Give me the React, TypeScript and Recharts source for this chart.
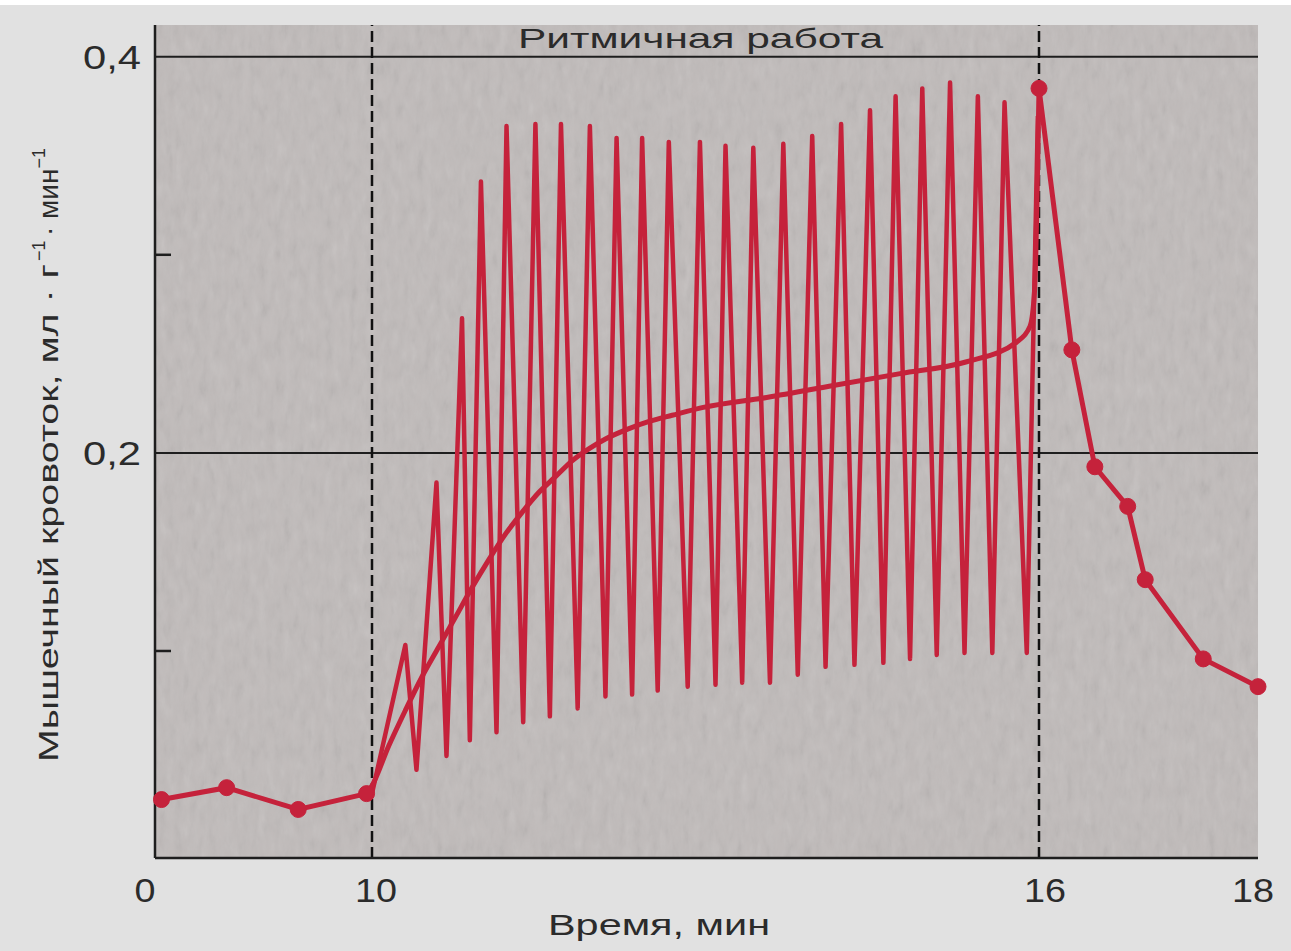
import React, { useEffect } from "react";
import {
  ComposedChart,
  Line,
  XAxis,
  YAxis,
  ReferenceLine,
  ReferenceArea,
  Label,
} from "recharts";

// The time axis is broken: rest (0-10), rhythmic work (10-16) and recovery (16-18)
// each get their own stretch of the plot.
const TIME_STOPS = [0, 10, 16, 18];
const AXIS_STOPS = [0, 217, 884, 1103];

// resting flow before the work bout
const REST_TIME = [0.3, 3.3, 6.6, 9.75];
const REST_FLOW = [0.025, 0.031, 0.02, 0.028];

// mean flow during the rhythmic work
const MEAN_TIME = [
  9.75, 10.0, 10.15, 10.3, 10.45, 10.6, 10.75, 10.9, 11.05, 11.2, 11.35, 11.5,
  11.65, 11.8, 11.95, 12.1, 12.3, 12.5, 12.7, 12.98, 13.55, 14.15, 14.75,
  15.35, 15.8, 15.92, 15.96, 16.0,
];
const MEAN_FLOW = [
  0.028, 0.032, 0.052, 0.07, 0.087, 0.102, 0.117, 0.132, 0.146, 0.159, 0.17,
  0.18, 0.188, 0.196, 0.202, 0.207, 0.212, 0.216, 0.219, 0.223, 0.228, 0.234,
  0.24, 0.246, 0.256, 0.264, 0.282, 0.384,
];

// flow swings with every contraction / relaxation cycle
const PULSE_TIME = [
  10.0, 10.3, 10.4, 10.58, 10.67, 10.81, 10.88, 10.98, 11.12, 11.21, 11.36,
  11.47, 11.6, 11.7, 11.85, 11.96, 12.1, 12.2, 12.34, 12.43, 12.57, 12.67,
  12.84, 12.95, 13.09, 13.18, 13.33, 13.43, 13.58, 13.7, 13.83, 13.96, 14.08,
  14.22, 14.34, 14.48, 14.6, 14.71, 14.84, 14.95, 15.08, 15.2, 15.33, 15.45,
  15.58, 15.69, 15.89, 15.99,
];
const PULSE_FLOW = [
  0.028, 0.103, 0.04, 0.185, 0.047, 0.268, 0.055, 0.337, 0.059, 0.365, 0.064,
  0.366, 0.067, 0.366, 0.071, 0.365, 0.077, 0.359, 0.078, 0.359, 0.08, 0.357,
  0.082, 0.357, 0.083, 0.355, 0.084, 0.354, 0.084, 0.356, 0.088, 0.36, 0.092,
  0.366, 0.093, 0.373, 0.094, 0.38, 0.096, 0.384, 0.098, 0.387, 0.099, 0.38,
  0.099, 0.377, 0.099, 0.37,
];

// recovery after the work stops
const RECOVERY_TIME = [16.0, 16.3, 16.51, 16.81, 16.97, 17.5, 18.0];
const RECOVERY_FLOW = [0.384, 0.252, 0.193, 0.173, 0.136, 0.096, 0.082];

const Y_TICKS = [0.1, 0.2, 0.3, 0.4];
const Y_LABELS: Record<string, string> = { "0.2": "0,2", "0.4": "0,4" };

const RED = "#c5223b";
const INK = "#2b2b2b";
const FONT = "'Liberation Sans', Arial, sans-serif";
const Y_MIN = -0.0045;
const Y_MAX = 0.416;

function toAxis(t: number) {
  for (let i = 1; i < TIME_STOPS.length; i++) {
    if (t <= TIME_STOPS[i] || i === TIME_STOPS.length - 1) {
      const t0 = TIME_STOPS[i - 1];
      const t1 = TIME_STOPS[i];
      const a0 = AXIS_STOPS[i - 1];
      const a1 = AXIS_STOPS[i];
      return a0 + ((t - t0) / (t1 - t0)) * (a1 - a0);
    }
  }
  return 0;
}

const series = (times: number[], flows: number[]) =>
  times.map((t, i) => ({ u: toAxis(t), v: flows[i] }));

const restData = series(REST_TIME, REST_FLOW);
const meanData = series(MEAN_TIME, MEAN_FLOW);
const pulseData = series(PULSE_TIME, PULSE_FLOW);
const recoveryData = series(RECOVERY_TIME, RECOVERY_FLOW);

const xTicks = TIME_STOPS.map(toAxis);

function XTick(props: any) {
  const { x, y, index } = props;
  const shift = index === 0 ? -10 : index === 3 ? -5 : index === 2 ? 6 : 4;
  const label = String(TIME_STOPS[index]);
  return (
    <text
      x={x + shift}
      y={y}
      dy={28}
      textAnchor="middle"
      fontFamily={FONT}
      fontSize={34}
      fill={INK}
      textLength={label.length * 21}
      lengthAdjust="spacingAndGlyphs"
    >
      {label}
    </text>
  );
}

function YTick(props: any) {
  const { x, y, payload } = props;
  const text = Y_LABELS[String(payload.value)];
  if (!text) return null;
  return (
    <text
      x={x}
      y={y}
      dy={12}
      textAnchor="end"
      fontFamily={FONT}
      fontSize={34}
      fill={INK}
      textLength={58}
      lengthAdjust="spacingAndGlyphs"
    >
      {text}
    </text>
  );
}

// rotated axis title with the two superscript exponents
function FlowTitle() {
  return (
    <g transform="translate(58, 762) rotate(-90)" fontFamily={FONT} fill={INK}>
      <text
        x={0}
        y={0}
        fontSize={28}
        textLength={498}
        lengthAdjust="spacingAndGlyphs"
      >
        Мышечный кровоток, мл · г
      </text>
      <text x={501} y={-13} fontSize={18}>
        −1
      </text>
      <text x={526} y={0} fontSize={28}>
        · мин
        <tspan fontSize={18} dy={-13}>
          −1
        </tspan>
      </text>
    </g>
  );
}

function Grain(props: any) {
  const { x, y, width, height } = props;
  return (
    <g>
      <defs>
        <filter id="grain" x="0" y="0" width="100%" height="100%">
          <feTurbulence
            type="fractalNoise"
            baseFrequency="0.12 0.05"
            numOctaves={4}
            seed={7}
          />
          <feColorMatrix type="saturate" values="0" />
        </filter>
      </defs>
      <rect x={x} y={y} width={width} height={height} fill="#c0bbba" />
      <rect
        x={x}
        y={y}
        width={width}
        height={height}
        filter="url(#grain)"
        opacity={0.2}
      />
    </g>
  );
}

export default function App() {
  useEffect(() => {
    document.body.style.margin = "0";
  }, []);

  return (
    <div
      style={{
        width: 1291,
        height: 951,
        background: "linear-gradient(#ffffff 0 5px, #e1e1e1 5px)",
      }}
    >
      <ComposedChart
        width={1291}
        height={951}
        margin={{ top: 25, right: 33, bottom: 63, left: 80 }}
      >
        <XAxis
          dataKey="u"
          type="number"
          height={30}
          domain={[0, AXIS_STOPS[AXIS_STOPS.length - 1]]}
          ticks={xTicks}
          tick={<XTick />}
          tickLine={false}
          tickSize={0}
          tickMargin={16}
          axisLine={{ stroke: "#1e1e1e", strokeWidth: 2.5 }}
        >
          <Label
            content={() => (
              <text
                x={548}
                y={935}
                fontFamily={FONT}
                fontSize={29}
                fill={INK}
                textLength={222}
                lengthAdjust="spacingAndGlyphs"
              >
                Время, мин
              </text>
            )}
          />
        </XAxis>
        <YAxis
          type="number"
          domain={[Y_MIN, Y_MAX]}
          ticks={Y_TICKS}
          tick={<YTick />}
          tickLine={false}
          tickSize={0}
          tickMargin={14}
          width={75}
          axisLine={{ stroke: "#1e1e1e", strokeWidth: 2.5 }}
        >
          <Label content={() => <FlowTitle />} />
        </YAxis>

        <ReferenceArea
          x1={0}
          x2={AXIS_STOPS[AXIS_STOPS.length - 1]}
          y1={Y_MIN}
          y2={Y_MAX}
          shape={<Grain />}
        />

        <ReferenceLine y={0.4} stroke="#1e1e1e" strokeWidth={2}>
          <Label
            content={(p: any) => (
              <text
                x={518}
                y={p.viewBox.y - 9}
                fontFamily={FONT}
                fontSize={28}
                fill={INK}
                textLength={365}
                lengthAdjust="spacingAndGlyphs"
              >
                Ритмичная работа
              </text>
            )}
          />
        </ReferenceLine>
        <ReferenceLine y={0.2} stroke="#1e1e1e" strokeWidth={2} />
        {[0.1, 0.3].map((v) => (
          <ReferenceLine
            key={v}
            segment={[
              { x: 0, y: v },
              { x: 16, y: v },
            ]}
            stroke="#1e1e1e"
            strokeWidth={2.5}
          />
        ))}
        <ReferenceLine
          x={toAxis(10)}
          stroke="#111"
          strokeWidth={2.5}
          strokeDasharray="11 5"
        />
        <ReferenceLine
          x={toAxis(16)}
          stroke="#111"
          strokeWidth={2.5}
          strokeDasharray="11 5"
        />

        <Line
          data={pulseData}
          dataKey="v"
          type="linear"
          stroke={RED}
          strokeWidth={4.5}
          strokeLinejoin="round"
          dot={false}
          activeDot={false}
          isAnimationActive={false}
        />
        <Line
          data={meanData}
          dataKey="v"
          type="monotone"
          stroke={RED}
          strokeWidth={5}
          dot={false}
          activeDot={false}
          isAnimationActive={false}
        />
        <Line
          data={restData}
          dataKey="v"
          type="linear"
          stroke={RED}
          strokeWidth={5}
          dot={{ r: 8, fill: RED, stroke: RED, strokeWidth: 1 }}
          activeDot={false}
          isAnimationActive={false}
        />
        <Line
          data={recoveryData}
          dataKey="v"
          type="linear"
          stroke={RED}
          strokeWidth={5}
          dot={{ r: 8, fill: RED, stroke: RED, strokeWidth: 1 }}
          activeDot={false}
          isAnimationActive={false}
        />
      </ComposedChart>
    </div>
  );
}
